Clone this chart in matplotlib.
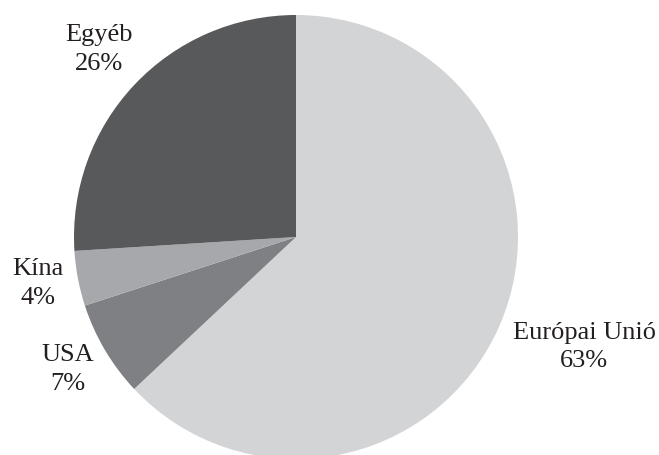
import numpy as np
import matplotlib.pyplot as plt

# share of partners
labels = ["Európai Unió", "USA", "Kína", "Egyéb"]
shares = [63, 7, 4, 26]
colors = ["#d3d4d6", "#7f8083", "#a7a8ab", "#58595b"]
# label placement: distance in radii, angle nudge in degrees
label_dist = [1.39, 1.19, 1.18, 1.225]
label_nudge = [2.5, -0.5, -0.5, -0.5]

plt.rcParams['font.family'] = ['Liberation Serif', 'DejaVu Serif']

fig = plt.figure(figsize=(6.59, 4.55), dpi=100)
ax = fig.add_axes([0, 0, 1, 1])
cx, cy, r = 296, 455 - 237, 222
wedges, _ = ax.pie(shares, colors=colors, startangle=90, counterclock=False,
                   center=(cx, cy), radius=r,
                   wedgeprops=dict(linewidth=0))
for w, lab, val, d, nd in zip(wedges, labels, shares, label_dist, label_nudge):
    mid = np.deg2rad((w.theta1 + w.theta2) / 2 + nd)
    x = cx + d * r * np.cos(mid)
    y = cy + d * r * np.sin(mid)
    ax.text(x, y, f"{lab}\n{val}%", ha='center', va='center', multialignment='center',
            fontsize=19, color='#231f20', linespacing=1.4)
ax.set_xlim(0, 659)
ax.set_ylim(0, 455)
ax.set_aspect('equal')
ax.axis('off')
fig.savefig('out.png', dpi=100)
